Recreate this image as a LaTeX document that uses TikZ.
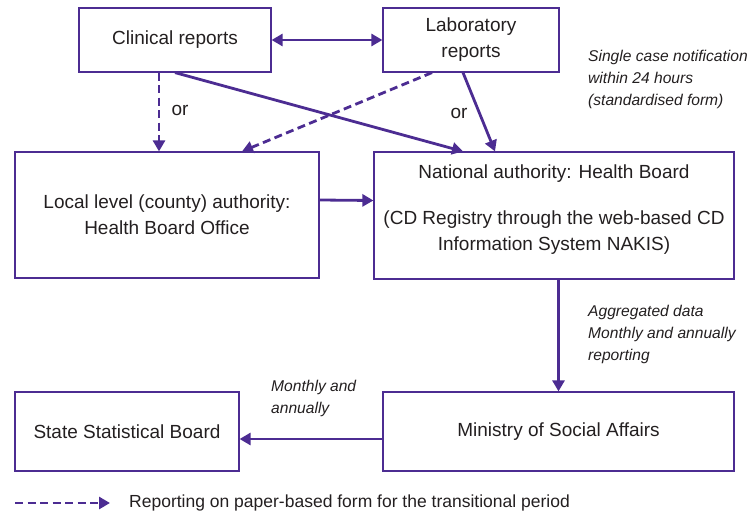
\documentclass[tikz,border=0pt]{standalone}
\usepackage{fontspec}
\setmainfont{Liberation Sans}
\usetikzlibrary{arrows.meta,calc}
\definecolor{purp}{HTML}{4C2C92}
\definecolor{ink}{HTML}{231F20}

\begin{document}
\begin{tikzpicture}
  [
    x=1pt, y=-1pt,
    block/.style =
      {draw=purp, line width=1.2pt, rectangle, align=center, text=ink,
       font=\fontsize{19}{26}\selectfont, inner sep=0pt},
    link/.style =
      {draw=purp, line width=2.8pt, >={Triangle[length=11pt,width=12pt]}},
    paper/.style =
      {link, dash pattern=on 8pt off 4.5pt},
    lbl/.style =
      {text=ink, inner sep=0pt, font=\fontsize{19}{26}\selectfont},
    note/.style =
      {anchor=north west, align=left, inner sep=0pt, text=ink,
       font=\fontsize{15.6}{22}\selectfont\itshape}
  ]
  \useasboundingbox (0,0) rectangle (752,516);

  \node [block, minimum width=192pt, minimum height=64pt]  at (175,40)    (cr) {Clinical reports};
  \node [block, minimum width=176pt, minimum height=64pt]  at (471,40)    (lr) {Laboratory\\reports};
  \node [block, minimum width=304pt, minimum height=126pt] at (167,215)   (lc) {Local level (county) authority:\\Health Board Office};
  \node [block, minimum width=360pt, minimum height=127pt, text depth=16pt] at (554,215.5) (na)
    {National authority: Health Board\\[20pt](CD Registry through the web-based CD\\Information System NAKIS)};
  \node [block, minimum width=224pt, minimum height=79pt]  at (127,431.5) (st) {State Statistical Board};
  \node [block, minimum width=351pt, minimum height=79pt]  at (558.5,431.5) (mi) {Ministry of Social Affairs};

  \node [lbl] at (180,110) (or1) {or};
  \node [lbl] at (459,113) (or2) {or};
  \node [note] at (588,50)  (n1) {Single case notification\\within 24 hours\\(standardised form)};
  \node [note] at (588,305) (n2) {Aggregated data\\Monthly and annually\\reporting};
  \node [note] at (271,380) (n3) {Monthly and\\annually};

  \draw[<->, link]  (cr.east)                 -- (lr.west);
  \draw[ ->, paper] ($(cr.south)-(16,0)$)     -- ($(lc.north)-(8,0)$);
  \draw[ ->, paper] ($(lr.south)-(39,0)$)     -- ($(lc.north)+(75,0)$);
  \draw[ ->, link]  (cr.south)                -- ($(na.north)-(91,0)$);
  \draw[ ->, link]  ($(lr.south)-(8,0)$)      -- ($(na.north)-(59,0)$);
  \draw[ ->, link]  ($(lc.east)+(0,-15)$)     -- ($(na.west)+(0,-15)$);
  \draw[ ->, link]  (na.south -| mi.north)    -- (mi.north);
  \draw[ ->, link]  ($(mi.west)+(0,7.5)$)     -- ($(st.east)+(0,7.5)$);

  % legend
  \coordinate (k1) at (15,503);
  \coordinate (k2) at (110,503);
  \draw[ ->, paper] (k1) -- (k2);
  \node [lbl, anchor=west, font=\fontsize{17.5}{21}\selectfont] at (129,503) (key)
    {Reporting on paper-based form for the transitional period};

\end{tikzpicture}
\end{document}
